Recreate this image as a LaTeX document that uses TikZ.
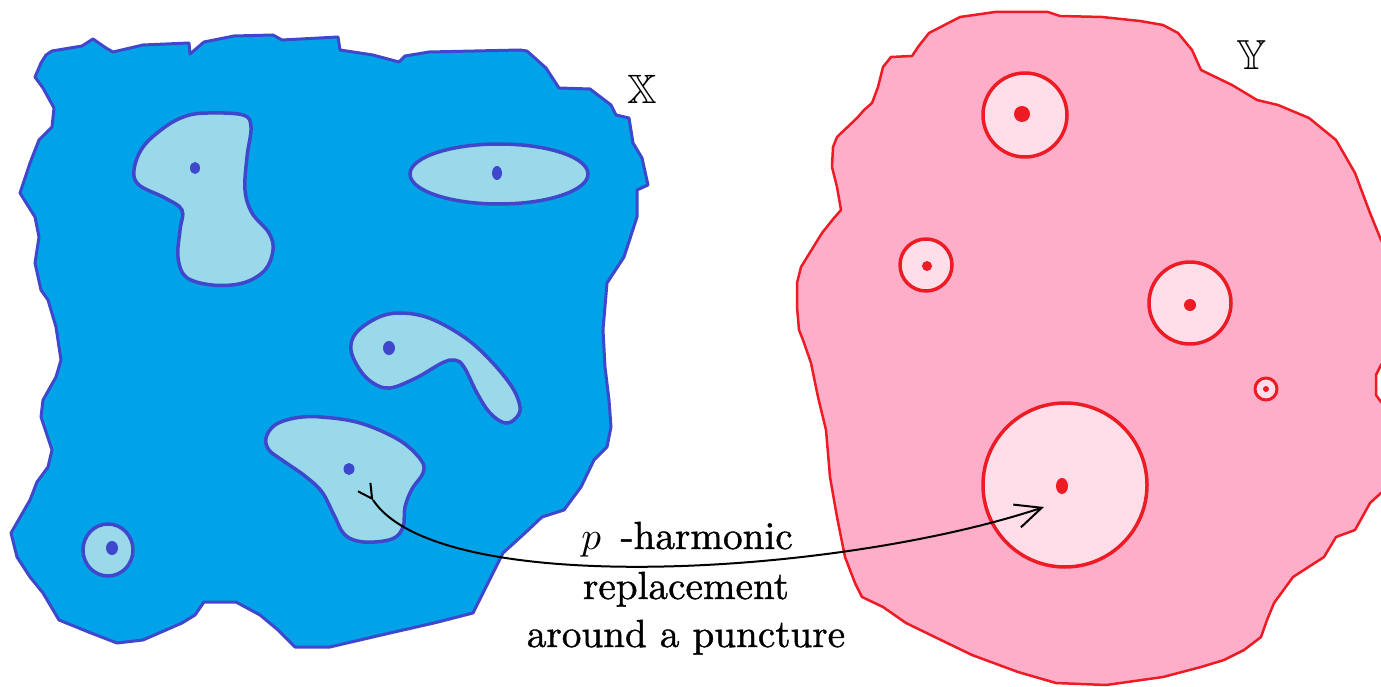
\documentclass[tikz,border=0pt]{standalone}
\usepackage{amssymb}
\usepackage{fontspec}
\newfontfamily\heavyrm{Latin Modern Roman}[FakeBold=1]
\usetikzlibrary{arrows.meta,decorations.markings}
\definecolor{bfill}{RGB}{0,162,232}
\definecolor{bline}{RGB}{63,72,204}
\definecolor{lblue}{RGB}{153,217,234}
\definecolor{pfill}{RGB}{255,174,201}
\definecolor{rline}{RGB}{237,28,36}
\definecolor{lpink}{RGB}{255,222,233}
\begin{document}
\begin{tikzpicture}[x=1pt,y=-1pt,line join=round,
  outerX/.style={fill=bfill,draw=bline,line width=3pt},
  innerX/.style={fill=lblue,draw=bline,line width=3.5pt},
  dotX/.style={fill=bline},
  outerY/.style={fill=pfill,draw=rline,line width=2.5pt},
  innerY/.style={fill=lpink,draw=rline,line width=3.5pt},
  dotY/.style={fill=rline},
  lbl/.style={inner sep=0pt,anchor=base,font=\heavyrm},
  conn/.style={line width=2pt,black}]
\useasboundingbox (0,0) rectangle (1381,687);
\clip (0,0) rectangle (1381,687);
% space X
\draw[outerX] (46,55) -- (52,51) -- (82,46) -- (93,39) -- (106,48) -- (113,52) -- (143,45) -- (189,43) -- (190,54) -- (204,42) -- (234,36) -- (273,35) -- (282,40) -- (338,37) -- (340,50) -- (373,55) -- (399,62) -- (405,56) -- (429,52) -- (520,50) -- (527,51) -- (546,68) -- (559,88) -- (590,89) -- (611,105) -- (616,115) -- (629,118) -- (633,143) -- (642,158) -- (648,185) -- (637,190) -- (637,217) -- (624,257) -- (607,283) -- (603,330) -- (605,367) -- (609,400) -- (611,427) -- (607,447) -- (594,460) -- (581,487) -- (564,510) -- (542,517) -- (525,533) -- (503,553) -- (486,587) -- (473,613) -- (434,623) -- (390,633) -- (347,643) -- (330,647) -- (295,647) -- (278,630) -- (260,615) -- (236,602) -- (204,602) -- (195,615) -- (182,623) -- (143,640) -- (117,643) -- (91,633) -- (59,620) -- (43,593) -- (30,577) -- (17,557) -- (11,533) -- (30,500) -- (37,482) -- (48,467) -- (52,450) -- (41,417) -- (43,400) -- (56,377) -- (61,360) -- (56,327) -- (48,300) -- (41,290) -- (35,263) -- (39,237) -- (35,217) -- (20,193) -- (30,163) -- (39,140) -- (52,127) -- (54,108) -- (43,88) -- (35,77) -- (41,63) -- cycle;
\draw[innerX] plot[smooth cycle,tension=0.6] coordinates {(208,113) (243,115) (251,127) (247,157) (245,190) (252,213) (269,233) (273,250) (265,270) (243,283) (212,285) (186,277) (178,257) (180,230) (182,210) (165,198) (139,185) (134,170) (143,147) (165,127) (186,116)};
\draw[innerX] (499,174) ellipse[x radius=89pt,y radius=30pt];
\draw[innerX] plot[smooth cycle,tension=0.6] coordinates {(356,333) (377,318) (399,313) (429,318) (464,337) (490,360) (512,387) (520,407) (516,418) (505,423) (490,413) (477,393) (464,367) (455,360) (442,363) (416,378) (390,388) (373,383) (360,370) (351,350)};
\draw[innerX] plot[smooth cycle,tension=0.6] coordinates {(266,438) (275,425) (295,418) (321,417) (360,423) (399,440) (421,460) (423,473) (412,489) (405,507) (403,527) (392,539) (364,542) (345,535) (334,515) (322,492) (305,476) (282,460) (269,450)};
\draw[innerX] (108,550) ellipse[x radius=25pt,y radius=26pt];
\fill[dotX] (195,168) ellipse[x radius=5pt,y radius=6pt];
\fill[dotX] (497,173) ellipse[x radius=5pt,y radius=7pt];
\fill[dotX] (389,348) ellipse[x radius=6pt,y radius=7pt];
\fill[dotX] (349,469) ellipse[x radius=5.5pt,y radius=6pt];
\fill[dotX] (112,548) ellipse[x radius=6pt,y radius=7pt];
% space Y
\draw[outerY] (891,57) -- (912,56) -- (918,47) -- (929,33) -- (960,17) -- (995,12) -- (1048,12) -- (1060,16) -- (1102,17) -- (1140,21) -- (1163,25) -- (1178,33) -- (1192,50) -- (1201,70) -- (1232,85) -- (1257,100) -- (1278,105) -- (1309,118) -- (1336,140) -- (1355,173) -- (1370,213) -- (1381,240) -- (1392,260) -- (1392,350) -- (1381,365) -- (1376,375) -- (1376,395) -- (1381,402) -- (1392,410) -- (1392,490) -- (1381,493) -- (1370,503) -- (1355,530) -- (1336,537) -- (1324,557) -- (1293,577) -- (1274,603) -- (1267,620) -- (1261,637) -- (1244,650) -- (1224,660) -- (1201,667) -- (1163,677) -- (1106,685) -- (1056,683) -- (1018,672) -- (972,655) -- (941,640) -- (906,623) -- (883,607) -- (862,597) -- (855,583) -- (845,557) -- (837,517) -- (830,477) -- (826,430) -- (818,397) -- (811,363) -- (803,340) -- (799,330) -- (797,307) -- (797,283) -- (801,267) -- (822,233) -- (834,218) -- (841,210) -- (837,187) -- (832,167) -- (833,147) -- (837,137) -- (857,118) -- (864,110) -- (872,103) -- (878,87) -- (883,67) -- cycle;
\draw[innerY] (1025,115) circle[radius=42pt];
\draw[innerY] (926,265) circle[radius=26pt];
\draw[innerY] (1190,303) circle[radius=41pt];
\draw[innerY,line width=3pt] (1266,389) circle[radius=11pt];
\draw[innerY] (1065,485) circle[radius=82pt];
\fill[dotY] (1022,114) circle[radius=8pt];
\fill[dotY] (927,266) circle[radius=5pt];
\fill[dotY] (1190,305) circle[radius=6pt];
\fill[dotY] (1266,389) circle[radius=3pt];
\fill[dotY] (1062,486) ellipse[x radius=6pt,y radius=8pt];
% labels
\node[inner sep=0pt] (lx) at (642,89) {\scalebox{4.1}{$\mathbb{X}$}};
\node[inner sep=0pt] (ly) at (1252,55) {\scalebox{4.2}{$\mathbb{Y}$}};
% connector
\coordinate (src) at (373,500);
\coordinate (dst) at (1044,507);
\draw[conn,-{Straight Barb[length=26pt,width=24pt]},
  postaction={decorate},
  decoration={markings,mark=at position 0.5pt with {\arrow[line width=2pt]{Straight Barb[length=14pt,width=15pt]}}}]
  (src) .. controls (440,600) and (840,575) .. (dst);
\node[lbl] (t1) at (687,549) {\scalebox{3.92}{$p$\hspace{5pt}-harmonic}};
\node[lbl] (t2) at (686,599) {\scalebox{3.92}{replacement}};
\node[lbl] (t3) at (686,647) {\scalebox{3.92}{around a puncture}};
\end{tikzpicture}
\end{document}
